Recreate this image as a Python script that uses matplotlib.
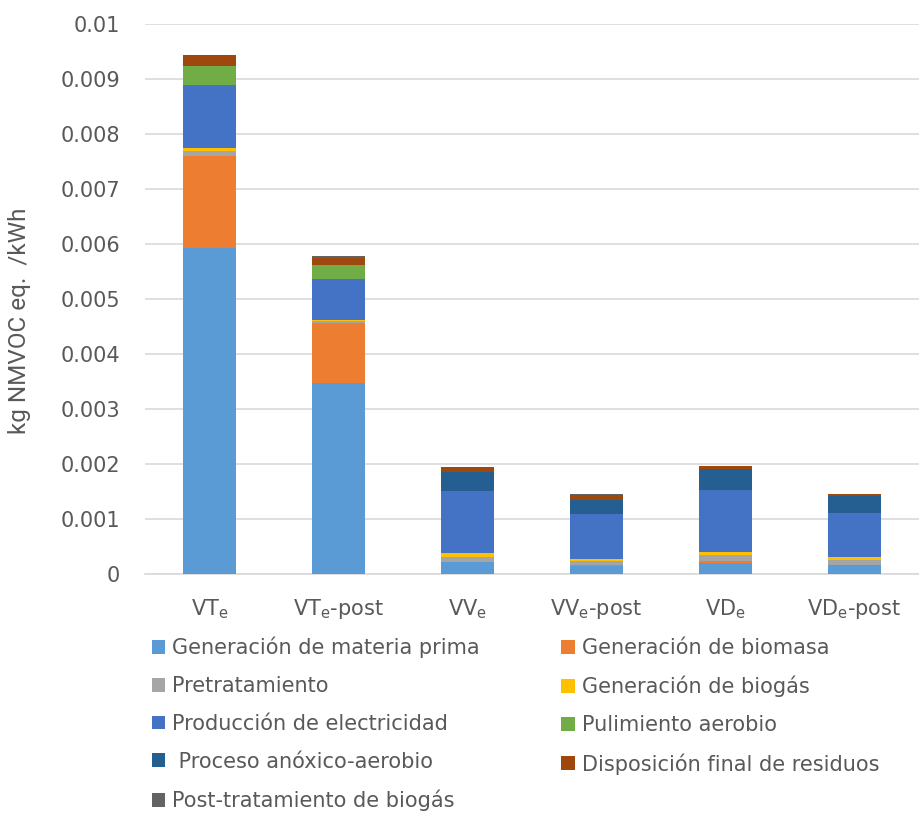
import numpy as np
import matplotlib.pyplot as plt

plt.rcParams['font.family'] = ['DejaVu Sans']

# ===== datos =====
categories = [r"$\mathregular{VT_e}$", r"$\mathregular{VT_e}$-post",
              r"$\mathregular{VV_e}$", r"$\mathregular{VV_e}$-post",
              r"$\mathregular{VD_e}$", r"$\mathregular{VD_e}$-post"]

materia_prima = [0.00593, 0.00347, 0.000206, 0.000133, 0.000194, 0.000158]
biomasa       = [0.00167, 0.00109, 0.0,      0.00003,  0.00004,  0.0]
pretratam     = [0.00009, 0.00003, 0.00009,  0.00007,  0.00011,  0.00009]
biogas        = [0.00005, 0.00003, 0.00009,  0.00004,  0.000055, 0.000055]
electricidad  = [0.00114, 0.00074, 0.00112,  0.00082,  0.001115, 0.00081]
pulimiento    = [0.000345, 0.00025, 0.0,     0.0,      0.0,      0.0]
anoxico       = [0.0,     0.0,     0.00035,  0.000255, 0.000394, 0.0003]
disposicion   = [0.00021, 0.00013, 0.00009,  0.00008,  0.00005,  0.00004]
post_biogas   = [0.0,     0.00003, 0.0,      0.00002,  0.0,      0.0]

series = [
    ("Generación de materia prima", materia_prima, "#5B9BD5"),
    ("Generación de biomasa", biomasa, "#ED7D31"),
    ("Pretratamiento", pretratam, "#A5A5A5"),
    ("Generación de biogás", biogas, "#FFC000"),
    ("Producción de electricidad", electricidad, "#4472C4"),
    ("Pulimiento aerobio", pulimiento, "#70AD47"),
    (" Proceso anóxico-aerobio", anoxico, "#255E91"),
    ("Disposición final de residuos", disposicion, "#9E480E"),
    ("Post-tratamiento de biogás", post_biogas, "#636363"),
]

fig = plt.figure(figsize=(9.19, 8.15), dpi=100)
ax = fig.add_axes([0.158, 0.296, 0.842, 0.675])

x = np.arange(len(categories))
bottom = np.zeros(len(categories))
handles = []
for name, vals, col in series:
    vals = np.array(vals)
    h = ax.bar(x, vals, 0.41, bottom=bottom, color=col, label=name, zorder=3)
    handles.append(h)
    bottom += vals

ax.set_xlim(-0.5, len(categories) - 0.5)
ax.set_ylim(0, 0.01)
ax.set_yticks(np.arange(0, 0.0101, 0.001))
ax.set_yticklabels(["0"] + [f"{v:.3f}".rstrip("0") for v in np.arange(0.001, 0.0101, 0.001)])
ax.set_xticks(x)
ax.set_xticklabels(categories)
ax.grid(axis="y", color="#D9D9D9", linewidth=1.2, zorder=0)
for s in ["top", "right", "left"]:
    ax.spines[s].set_visible(False)
ax.spines["bottom"].set_color("#D9D9D9")
ax.spines["bottom"].set_linewidth(1.2)
ax.tick_params(axis="both", length=0, labelsize=15, colors="#595959")
ax.tick_params(axis="y", pad=18)
ax.tick_params(axis="x", pad=17)
ax.set_ylabel("kg NMVOC eq.  /kWh", fontsize=17.5, color="#595959",
              family="Roboto")
ax.yaxis.set_label_coords(-0.147, 0.46)

# orden por filas en la leyenda (matplotlib rellena por columnas)
order = [0, 2, 4, 6, 8, 1, 3, 5, 7]
leg = fig.legend([handles[i] for i in order], [series[i][0] for i in order],
                 loc="upper left", bbox_to_anchor=(0.165, 0.219), ncol=2,
                 frameon=False, fontsize=15, handlelength=0.65, handleheight=0.65,
                 handletextpad=0.35, columnspacing=3.9, labelspacing=0.86,
                 borderaxespad=0, borderpad=0)
for t in leg.get_texts():
    t.set_color("#595959")

fig.savefig("out.png", dpi=100)
